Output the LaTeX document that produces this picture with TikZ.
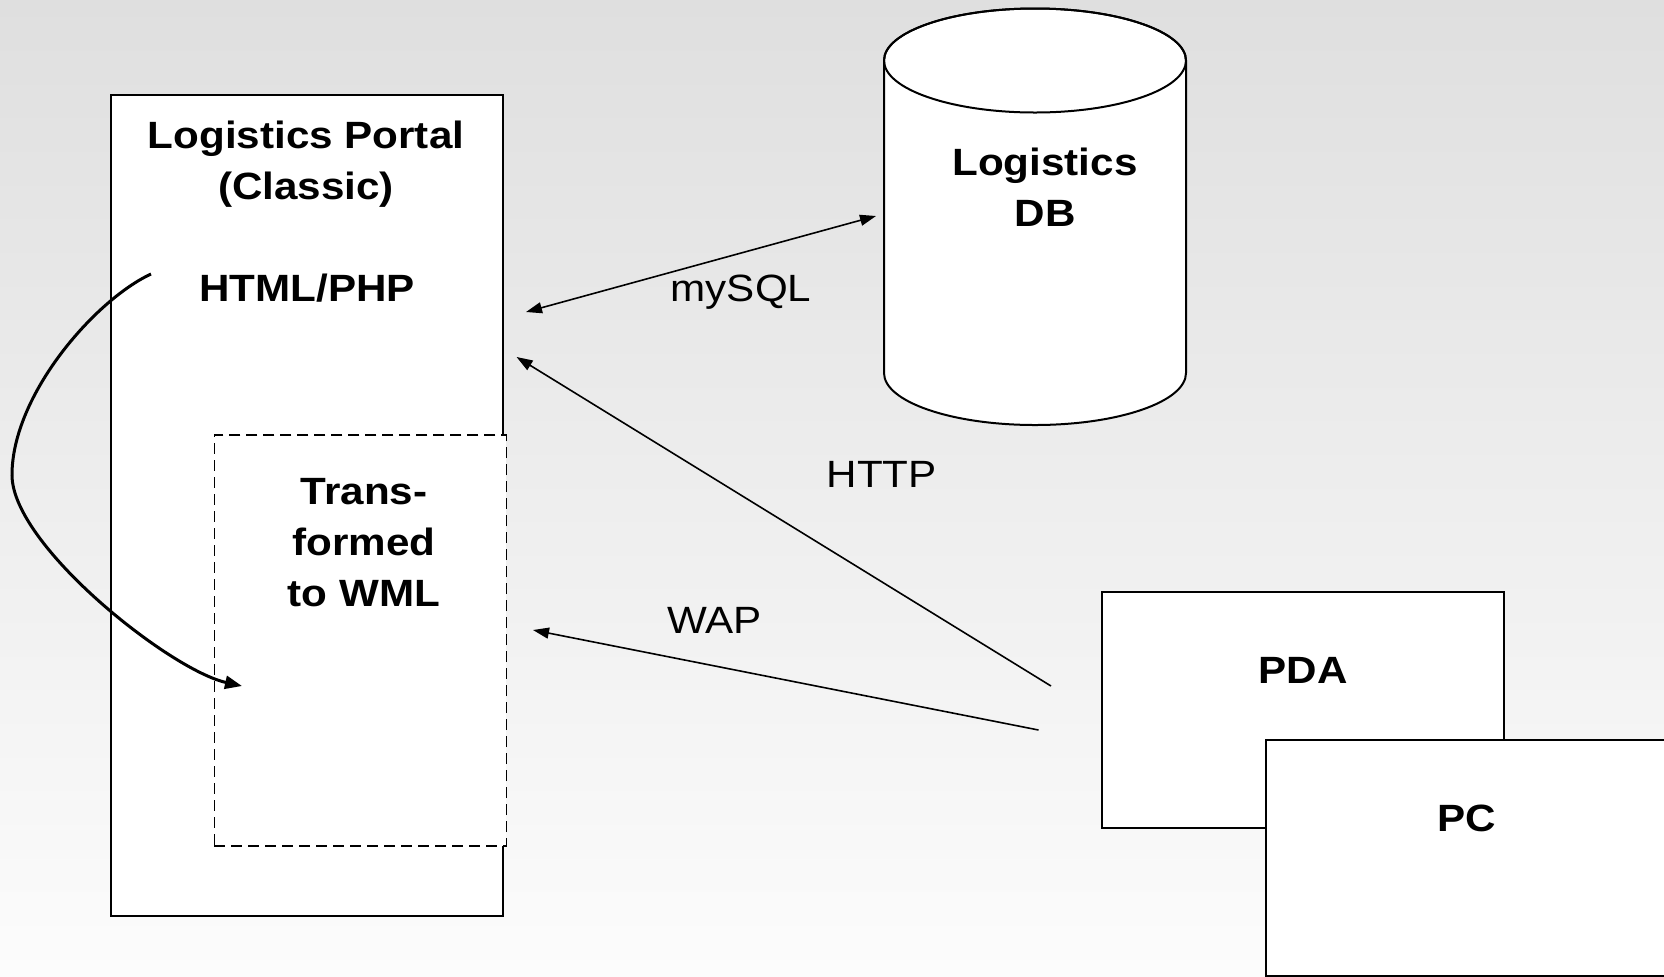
\documentclass[tikz,border=0pt]{standalone}
\usepackage{fontspec}
\setmainfont[FakeStretch=1.11]{Liberation Sans}
\usetikzlibrary{arrows.meta}
\definecolor{bgtop}{HTML}{DFDFDF}
\definecolor{bgbot}{HTML}{FCFCFC}
\tikzset{
  lbl/.style={font=\fontsize{19}{25.5}\selectfont\bfseries, align=center, inner sep=0pt, anchor=base},
  plainlbl/.style={font=\fontsize{19}{25.5}\selectfont, inner sep=0pt, anchor=base},
  boxshape/.style={draw=black, line width=1pt, fill=white, inner sep=0pt},
  dashbox/.style={draw=black, line width=0.75pt, dash pattern=on 5.5pt off 3pt, fill=white, inner sep=0pt},
  conn/.style={line width=0.8pt, -{Triangle[length=8pt,width=5.5pt]}},
  conn2/.style={line width=0.8pt, {Triangle[length=8pt,width=5.5pt]}-{Triangle[length=8pt,width=5.5pt]}},
  curvearrow/.style={line width=1.5pt, -{Triangle[length=8.5pt,width=6.5pt]}},
}
\begin{document}
\begin{tikzpicture}[x=0.5pt,y=-0.5pt]
\useasboundingbox (0,0) rectangle (1664,976);
\clip (0,0) rectangle (1664,976);
\shade[top color=bgtop, bottom color=bgbot] (0,0) rectangle (1664,976);

% Logistics portal
\node[boxshape, minimum width=196pt, minimum height=410.5pt] (portal) at (307,505.5) {};
\node[dashbox, minimum width=146pt, minimum height=205.5pt] (wmlbox) at (360.3,640.5) {};
\node[lbl] (ptitle) at (306,199.3) {Logistics Portal\\(Classic)};
\node[lbl] (html) at (307,301.5) {HTML/PHP};
\node[lbl] (wml) at (364,606.5) {Trans-\\formed\\to WML};

% curved arrow
\coordinate (cs) at (151,274);
\coordinate (cm) at (12,475);
\coordinate (ce) at (242,686);
\draw[curvearrow] (cs) .. controls (95,300) and (12,395) .. (cm) .. controls (12,545) and (170,670) .. (ce);

% database cylinder
\filldraw[fill=white, line width=1pt] (884,60.5) -- (884,373)
  arc[start angle=180, end angle=360, x radius=75.5pt, y radius=26pt]
  -- (1186,60.5)
  arc[start angle=0, end angle=180, x radius=75.5pt, y radius=26pt] -- cycle;
\draw[line width=1pt] (1035,60.5) ellipse [x radius=75.5pt, y radius=26pt];
\coordinate (db) at (1035,216);
\node[lbl] (dbtext) at (1045,226.5) {Logistics\\DB};

% devices
\node[boxshape, minimum width=201pt, minimum height=117.85pt] (pda) at (1302.6,709.85) {};
\node[lbl] (pdatext) at (1303,683.3) {PDA};
\node[boxshape, minimum width=201pt, minimum height=117.85pt] (pc) at (1466.5,857.85) {};
\node[lbl] (pctext) at (1467,831.7) {PC};

% connectors
\coordinate (sqlA) at (526,312);
\coordinate (sqlB) at (876,216);
\draw[conn2] (sqlA) -- (sqlB);
\node[plainlbl] (sqllbl) at (741,301.4) {mySQL};

\coordinate (httpS) at (1051,686);
\coordinate (httpE) at (516.6,357);
\draw[conn] (httpS) -- (httpE);
\node[plainlbl] (httplbl) at (881.7,487) {HTTP};

\coordinate (wapS) at (1038.5,730);
\coordinate (wapE) at (533,630);
\draw[conn] (wapS) -- (wapE);
\node[plainlbl] (waplbl) at (714.4,633) {WAP};
\end{tikzpicture}
\end{document}
